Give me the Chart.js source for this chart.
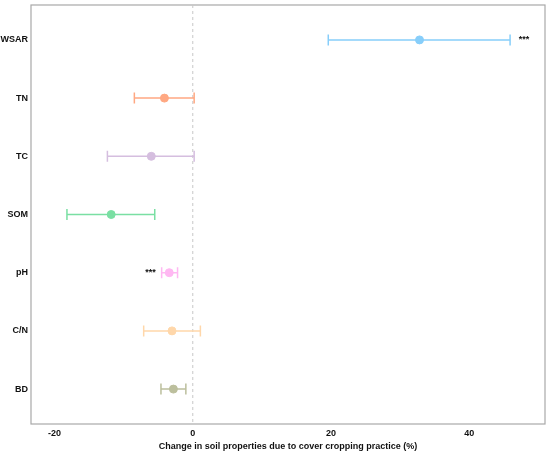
<!DOCTYPE html>
<html>
<head>
<meta charset="utf-8">
<script src="https://cdn.jsdelivr.net/npm/chart.js@4"></script>
<style>
html,body{margin:0;padding:0;background:#fff;}
#wrap{width:550px;height:452px;}
</style>
</head>
<body>
<div id="wrap"><canvas id="c" width="550" height="452"></canvas></div>
<script>
const categories = ['WSAR','TN','TC','SOM','pH','C/N','BD'];
const meanValues = [32.8, -4.1, -6.0, -11.8, -3.4, -3.0, -2.8];
const lowerCI = [19.6, -8.45, -12.35, -18.2, -4.5, -7.1, -4.6];
const upperCI = [45.9, 0.2, 0.2, -5.5, -2.2, 1.1, -1.0];
const sigLabels = ['***','','','','***','',''];
const sigPos = [47.9, null, null, null, -6.1, null, null];
const colors = ['#87CEFA','#FFA882','#D5BEDF','#7ADFA3','#FFB8F2','#FFD7AA','#BCBF9D'];
const xTicks = [-20, 0, 20, 40];
const xTitle = 'Change in soil properties due to cover cropping practice (%)';

const FONT = 'Liberation Sans, Arial, sans-serif';

const errorBars = {
  id: 'errorBars',
  beforeDatasetsDraw(chart) {
    const {ctx, chartArea, scales: {x, y}} = chart;
    ctx.save();
    ctx.strokeStyle = '#a8a8a8';
    ctx.lineWidth = 1.2;
    ctx.strokeRect(chartArea.left, chartArea.top, chartArea.right - chartArea.left, chartArea.bottom - chartArea.top);
    const x0 = x.getPixelForValue(0);
    ctx.strokeStyle = '#c8c8c8';
    ctx.lineWidth = 1;
    ctx.setLineDash([3, 3]);
    ctx.beginPath();
    ctx.moveTo(x0, chartArea.top);
    ctx.lineTo(x0, chartArea.bottom);
    ctx.stroke();
    ctx.setLineDash([]);
    categories.forEach((c, i) => {
      const yp = y.getPixelForValue(i + 1);
      const xl = x.getPixelForValue(lowerCI[i]);
      const xu = x.getPixelForValue(upperCI[i]);
      ctx.strokeStyle = colors[i];
      ctx.lineWidth = 1.5;
      ctx.beginPath();
      ctx.moveTo(xl, yp); ctx.lineTo(xu, yp);
      ctx.moveTo(xl, yp - 5.5); ctx.lineTo(xl, yp + 5.5);
      ctx.moveTo(xu, yp - 5.5); ctx.lineTo(xu, yp + 5.5);
      ctx.stroke();
    });
    ctx.restore();
  },
  afterDatasetsDraw(chart) {
    const {ctx, scales: {x, y}} = chart;
    ctx.save();
    ctx.fillStyle = '#111';
    ctx.font = 'bold 9px ' + FONT;
    ctx.textAlign = 'center';
    ctx.textBaseline = 'middle';
    sigLabels.forEach((s, i) => {
      if (s && sigPos[i] !== null) {
        ctx.fillText(s, x.getPixelForValue(sigPos[i]), y.getPixelForValue(i + 1));
      }
    });
    ctx.restore();
  }
};

new Chart(document.getElementById('c'), {
  type: 'scatter',
  data: {
    datasets: [{
      data: meanValues.map((v, i) => ({x: v, y: i + 1})),
      pointBackgroundColor: colors,
      pointBorderColor: colors,
      pointRadius: 4,
      pointHoverRadius: 4,
      showLine: false
    }]
  },
  options: {
    responsive: false,
    animation: false,
    devicePixelRatio: 1,
    layout: {padding: {top: 4, right: 5, left: 0, bottom: 0}},
    plugins: {legend: {display: false}, tooltip: {enabled: false}},
    scales: {
      x: {
        type: 'linear',
        min: -23.4,
        max: 50.95,
        afterBuildTicks(scale) { scale.ticks = xTicks.map(v => ({value: v})); },
        afterFit(scale) { scale.height = 28; scale.paddingLeft = 0; scale.paddingRight = 0; },
        grid: {display: false, drawOnChartArea: false, drawTicks: true, tickLength: 3, color: '#a8a8a8'},
        border: {display: false},
        ticks: {color: '#111', font: {family: FONT, size: 9, weight: 'bold'}, padding: 1, maxRotation: 0},
        title: {display: true, text: xTitle, color: '#111', font: {family: FONT, size: 9, weight: 'bold'}, padding: {top: 0, bottom: 0}}
      },
      y: {
        type: 'linear',
        min: 0.4,
        max: 7.6,
        reverse: true,
        afterBuildTicks(scale) { scale.ticks = categories.map((c, i) => ({value: i + 1})); },
        afterFit(scale) { scale.width = 31; scale.paddingTop = 0; scale.paddingBottom = 0; },
        grid: {display: false, drawOnChartArea: false, drawTicks: true, tickLength: 2, color: '#a8a8a8'},
        border: {display: false},
        ticks: {color: '#111', font: {family: FONT, size: 9, weight: 'bold'}, padding: 1,
          callback: (v) => categories[v - 1] || ''}
      }
    }
  },
  plugins: [errorBars]
});
</script>
</body>
</html>
